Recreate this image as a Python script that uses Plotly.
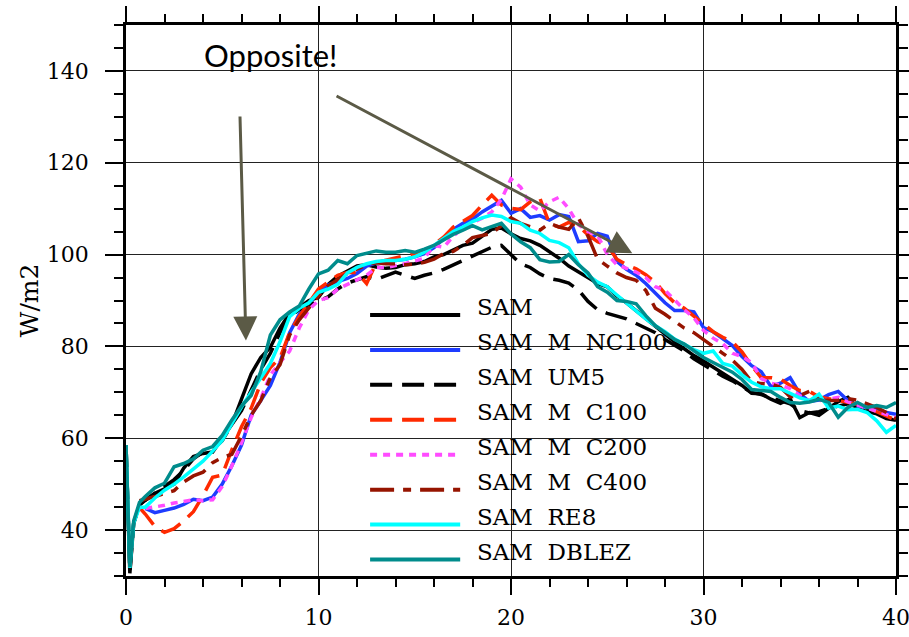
import plotly.graph_objects as go

# ---------------- data ----------------
head_t = [0, 0.2, 0.4, 0.7]
grid_t = [1 + 0.5 * i for i in range(79)]  # 1.0 .. 40.0
times = head_t + grid_t

names = ["SAM", "SAM M NC100", "SAM UM5", "SAM M C100", "SAM M C200",
         "SAM M C400", "SAM RE8", "SAM DBLEZ"]

sam = [58.5, 30.6, 41.5, 45.5,
       46.5, 48, 49, 50, 53.5, 56, 56.7, 57, 60, 63,
       68.5, 74, 77.6, 79.8, 84, 87.2, 88.5, 90, 90.7, 93.5,
       95.3, 96.5, 97.5, 97.8, 97.3, 97, 97.2, 97.8, 98, 98.5,
       99.5, 100, 101, 102, 102.5, 104, 105.5, 105.8, 104.5, 103.5,
       103, 102, 100.6, 99.2, 97.5, 96.3, 95, 93.7, 93, 91,
       89.5, 87.8, 86, 84.4, 82.8, 81, 79.5, 78, 76.8, 75.5,
       74.1, 73, 71.5, 69.8, 69.7, 68.5, 67.6, 68.6, 64.5, 65.6,
       65, 66.5, 68, 68.9, 66.5, 65.8, 65.3, 64.3, 63.9]

nc100 = [None, None, None, None,
         44.7, 43.8, 44.3, 44.8, 45.6, 46.7, 46.4, 47.2, 50, 54,
         58.5, 65, 68.2, 71.5, 76.5, 83, 87, 89.5, 91.8, 93.4,
         94.2, 94.8, 95.9, 97.5, 98.2, 98.4, 98.7, 99, 99.5, 100.2,
         101.5, 103.5, 105.5, 106.8, 107.7, 109.3, 110.5, 111.8, 109, 110,
         108.1, 108.5, 107.5, 108.7, 108.3, 102.8, 103, 104.6, 104, 98.5,
         96.8, 95.5, 93.7, 91.5, 89.5, 87.8, 87.8, 87.5, 84.1, 83.2,
         81.8, 80.2, 77.8, 75.8, 74.5, 71.3, 72, 73.2, 69.7, 68,
         68.3, 69.5, 70.2, 68.2, 67, 66.7, 66.5, 65.6, 65.2]

um5 = [58.5, 31, 41.5, 45.5,
       46.5, 48, 49.5, 51, 53, 55.5, 57, 57.5, 59.5, 63,
       66, 70.5, 75, 78.5, 83, 86.5, 88, 89, 90, 90.8,
       92.5, 93.8, 94.5, 95.2, 94.6, 95.5, 96.2, 95.5, 94.8, 95.5,
       96, 96.8, 97.8, 98.7, 99.8, 100.8, 101.6, 102, 100, 98,
       97.2, 95.8, 94.8, 94.4, 93.8, 92.3, 89.8, 88, 87.2, 86.5,
       86, 85, 84, 83, 81.5, 80.3, 79, 77.3, 76, 74.6,
       73.5, 72.5, 71.3, 70, 69.5, 68.8, 68, 67.5, 66, 65.5,
       65.8, 66.5, 67, 67.5, 66.8, 66, 65.5, 65, 64.5]

c100 = [None, None, None, 44.9,
        43.5, 40.8, 39.5, 40.3, 42, 44, 47.5, 51.5, 52, 57.5,
        62.5, 66.5, 72, 75.4, 77.5, 83, 86.5, 89.5, 92.5, 94,
        95.5, 96.1, 96.1, 93.7, 98.2, 98.8, 99.3, 99.8, 100.2, 100.5,
        102.2, 103.8, 106, 107.3, 108.5, 110.8, 112.9, 110.8, 110.1, 109.8,
        111.5, 112.3, 106.7, 106, 107, 106.3, 104.3, 102.8, 102, 99,
        97.8, 96.9, 95.6, 94, 91.5, 89.5, 88.3, 86.6, 84.8, 83.2,
        82, 81, 78.8, 75.8, 73.2, 73.2, 72.9, 71.5, 70.4, 70.2,
        69, 68.6, 68.2, 67.9, 67.4, 66.7, 65.8, 65, 63.9]

c200 = [None, None, None, None,
        44.7, 45, 45.4, 45.9, 46.2, 46.6, 46.4, 46.6, 49.5, 54,
        59, 64.5, 68.7, 73.8, 76.5, 79, 84, 88, 90, 90.6,
        92.5, 93.5, 94.3, 95.5, 97.2, 97.2, 97.6, 98, 98.6, 99.2,
        102, 101.6, 104, 105.8, 107, 107.9, 109.3, 112, 116.5, 114.7,
        110.8, 109.5, 111.5, 112.5, 110, 106.5, 105, 104.2, 100, 97.8,
        97, 96.2, 95, 93, 92.2, 90, 88, 86.2, 83.5, 81.8,
        80.6, 78.5, 77.8, 76.5, 73, 72, 71.6, 70.8, 69.3, 68.2,
        68.2, 68.5, 68.9, 67.9, 67.2, 66.5, 65.8, 65, 64.5]

c400 = [None, None, None, 46.4,
        46.7, 47.3, 48, 48.6, 50.5, 51.8, 52.6, 54.7, 55.8, 56.5,
        60.5, 65, 68.2, 73.2, 76, 82.5, 85.8, 88.5, 91, 93.2,
        94.5, 95.9, 96.8, 97.8, 98.2, 98, 98, 97.8, 97.9, 98.3,
        99, 100.2, 100.7, 102, 103.7, 104.2, 104.6, 106.3, 108, 106.8,
        106, 105.3, 106.8, 106, 105.5, 108, 104, 99, 97.5, 96,
        95, 94.4, 92.2, 88.3, 87, 85.6, 84, 83, 81.6, 80,
        78.5, 77, 75, 72.3, 71.9, 71.8, 71.1, 69, 69.3, 70.2,
        68.5, 68.2, 68.3, 68.6, 68.3, 67.5, 66.7, 65.6, 64.2]

re8 = [58.5, 31.8, 41.5, 45,
       45, 47, 48.7, 50, 51.6, 53.3, 55, 57.2, 59.5, 63.2,
       66.8, 70, 73.2, 76.3, 81, 86.5, 88.3, 89.5, 91.8, 92.5,
       93.5, 96, 97.2, 98, 98.5, 98.7, 98.7, 99, 99.5, 100.5,
       102, 103.5, 105, 106, 107.2, 108, 108.6, 108.3, 107.2, 106.8,
       105.3, 104.6, 103.1, 102.6, 101.5, 98, 95.5, 94, 93, 91.2,
       89.4, 87.8, 86, 84.5, 83.2, 81.6, 80.4, 79.3, 78.5, 79,
       76.3, 75.7, 73.8, 72.2, 71.2, 70.8, 70.8, 69.8, 68.8, 68.2,
       69.6, 66.6, 67, 66.2, 66.3, 65.6, 63.8, 61.3, 62.8]

dblez = [58.5, 32, 42, 46,
         47.3, 49.2, 50.2, 53.8, 54.5, 55.5, 57.4, 58.2, 60.6, 64,
         67, 69.3, 74.5, 82.5, 85.8, 87.5, 88.8, 92.5, 95.8, 96.6,
         98.7, 98, 99.8, 100.4, 100.8, 100.5, 100.5, 100.9, 100.5, 101.2,
         102, 103.2, 104.4, 105.3, 106.3, 105.4, 106.2, 106.8, 104.5, 102.8,
         101.5, 98.9, 98.4, 98.5, 100, 97.8, 96, 93, 91.8, 90,
         89.8, 89.3, 86.7, 84.5, 83, 81.5, 80.5, 79, 77.6, 76.5,
         75.4, 74.4, 72.8, 70.6, 70.4, 70.2, 68.9, 67.8, 67.6, 67.9,
         68.5, 67.8, 64.6, 66.7, 67.8, 66.7, 67.1, 66.7, 67.8]

series = [sam, nc100, um5, c100, c200, c400, re8, dblez]
for s in series:
    assert len(s) == len(times), len(s)

colors = ["#000000", "#1e3cff", "#000000", "#ff2a00", "#ff4cff",
          "#961400", "#00ffff", "#008c8c"]
dashes = ["solid", "solid", "22px,10px", "22px,10px", "7px,6px",
          "24px,9px,8px,9px", "solid", "solid"]

y_ticks = [40, 60, 80, 100, 120, 140]
x_ticks = [0, 10, 20, 30, 40]

FONT = "DejaVu Serif"

# ---------------- figure ----------------
fig = go.Figure()
for name, vals, col, dsh in zip(names, series, colors, dashes):
    fig.add_trace(go.Scatter(x=times, y=vals, mode="lines", name=name,
                             line=dict(color=col, width=3.5, dash=dsh),
                             connectgaps=False, showlegend=False))

tickfont = dict(family=FONT, size=22, color="black")
axis_common = dict(showline=True, linecolor="black", linewidth=2.5,
                   mirror="ticks", ticks="outside", tickwidth=2,
                   tickcolor="black", showgrid=True, gridcolor="#222222",
                   gridwidth=1, zeroline=False, tickfont=tickfont,
                   automargin=False, ticklabeloverflow="allow")

fig.update_xaxes(range=[0, 40], tickvals=x_ticks, ticklen=16,
                 ticklabelstandoff=4,
                 minor=dict(dtick=2, ticklen=8, tickwidth=1.5,
                            ticks="outside", tickcolor="black",
                            showgrid=False),
                 **axis_common)
fig.update_yaxes(range=[30, 150], tickvals=y_ticks, ticklen=18,
                 ticklabelstandoff=12,
                 minor=dict(dtick=5, ticklen=9, tickwidth=1.5,
                            ticks="outside", tickcolor="black",
                            showgrid=False),
                 **axis_common)

# manual legend (paper coords)
leg_x0, leg_x1, leg_tx = 0.317, 0.434, 0.453
leg_top, leg_step = 0.4737, 0.0634
for i, (name, col, dsh) in enumerate(zip(names, colors, dashes)):
    yy = leg_top - i * leg_step
    fig.add_shape(type="line", xref="paper", yref="paper",
                  x0=leg_x0, x1=leg_x1, y0=yy, y1=yy,
                  line=dict(color=col, width=4, dash=dsh))
    fig.add_annotation(xref="paper", yref="paper", x=leg_tx, y=yy + 0.0136,
                       xanchor="left", yanchor="middle", showarrow=False,
                       text=name.replace(" ", "\u00a0\u00a0"),
                       font=dict(family=FONT, size=23, color="black"))

# y axis title
fig.add_annotation(xref="paper", yref="paper", x=-0.125, y=0.50,
                   text="W/m2", textangle=-90, showarrow=False,
                   xanchor="center", yanchor="middle",
                   font=dict(family=FONT, size=25, color="black"))

# "Opposite!" note and arrows
arrow_col = "#5b5a46"
fig.add_annotation(x=7.53, y=143.4, xref="x", yref="y", text="Opposite!",
                   showarrow=False,
                   font=dict(family="Lato", size=31, color="black"))
fig.add_annotation(x=6.23, y=81.3, ax=5.92, ay=130.4, xref="x", yref="y",
                   axref="x", ayref="y", text="", showarrow=True,
                   arrowhead=2, arrowsize=1.6, arrowwidth=3,
                   arrowcolor=arrow_col)
fig.add_annotation(x=26.3, y=100.3, ax=10.86, ay=134.7, xref="x", yref="y",
                   axref="x", ayref="y", text="", showarrow=True,
                   arrowhead=2, arrowsize=1.6, arrowwidth=3,
                   arrowcolor=arrow_col)

fig.update_layout(width=909, height=637,
                  margin=dict(l=126, r=13, t=25, b=61),
                  paper_bgcolor="white", plot_bgcolor="white",
                  showlegend=False)

fig.write_html("out.html")
